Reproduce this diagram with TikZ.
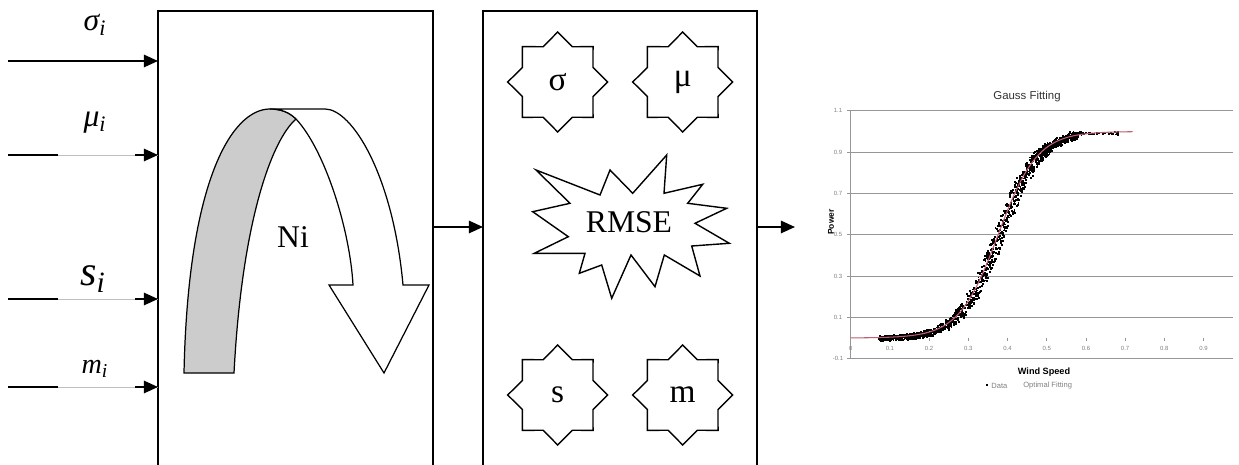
\documentclass[tikz,border=0pt]{standalone}
\usepackage{fontspec}
\setmainfont{Liberation Serif}
\newfontfamily\chartfont{Liberation Sans}
\usetikzlibrary{arrows.meta,shapes.geometric}
\definecolor{fitcol}{RGB}{190,95,115}
\definecolor{gridcol}{RGB}{150,150,150}
\definecolor{bandgray}{RGB}{204,204,204}
\begin{document}
\begin{tikzpicture}[x=0.02cm,y=-0.02cm,
  box/.style={draw, line width=1.1pt, anchor=north west, inner sep=0pt, outer sep=0pt},
  inarr/.style={line width=1.1pt, -{Triangle[length=8pt,width=7pt]}},
  thinseg/.style={black!25, line width=0.4pt},
  starbox/.style={draw, shape=star, star points=8, star point ratio=1.31, minimum size=2cm, inner sep=0pt, line width=0.8pt, font=\fontsize{19}{21}\selectfont},
  lbl/.style={font=\fontsize{18}{20}\selectfont\itshape},
  gridln/.style={gridcol, line width=0.6pt},
  ticklbl/.style={font=\chartfont\fontsize{3.4}{4}\selectfont, text=gray, inner sep=0pt},
  shapeln/.style={line width=0.7pt}
]
\clip (0,0) rectangle (1239,465);
\fill[white] (0,0) rectangle (1239,465);

% boxes
\node[box, minimum width=5.5cm, minimum height=9.38cm] (b1) at (158,11) {};
\node[box, minimum width=5.48cm, minimum height=9.38cm] (b2) at (483,11) {};

% input labels
\node[lbl] (lsig) at (95,25) {σ\textsubscript{i}};
\node[lbl] (lmu) at (95,123) {μ\textsubscript{i}};
\node[font=\fontsize{24}{26}\selectfont\itshape] (ls) at (93,279) {s\textsubscript{i}};
\node[font=\fontsize{16}{18}\selectfont\itshape] (lm) at (95,369) {m\textsubscript{i}};

% input arrows
\coordinate (i1) at (8,61);
\coordinate (i2) at (8,155);
\coordinate (i3) at (8,299);
\coordinate (i4) at (8,387);
\draw[inarr] (i1) -- (i1 -| b1.west);
\foreach \c in {i2,i3,i4}{
  \draw[thinseg] (\c) -- (\c -| b1.west);
  \draw[line width=1.1pt] (\c) -- ++(50,0);
  \draw[inarr] (\c -| b1.west) ++(-23,0) -- (\c -| b1.west);
}

% curved arrow
\filldraw[fill=bandgray, shapeln] (184,373) .. controls (188,180) and (232,109) .. (270,109)
  .. controls (282,109) and (290,113) .. (296,119)
  .. controls (272,140) and (242,220) .. (234,373) -- cycle;
\filldraw[fill=white, shapeln] (270,109) -- (325,109) .. controls (352,109) and (393,175) .. (403,285)
  -- (429,285) -- (384,373) -- (329,285) -- (353,285)
  .. controls (350,230) and (325,150) .. (296,119)
  .. controls (290,113) and (282,109) .. (270,109) -- cycle;
\node[font=\fontsize{18}{20}\selectfont] (ni) at (293,237) {Ni};

% connectors between boxes
\coordinate (lev) at (600,227);
\draw[inarr] (b1.east |- lev) -- (b2.west |- lev);
\coordinate (chartin) at (795,227);
\draw[inarr] (b2.east |- lev) -- (chartin);

% stars
\node[starbox] (ssig) at (557.7,82) {σ};
\node[starbox] (smu) at (682.7,82) {μ};
\node[starbox] (ss) at (557.7,395) {s};
\node[starbox] (sm) at (682.7,395) {m};

% RMSE explosion
\node[font=\fontsize{18}{20}\selectfont] (rmse) at (629,222) {RMSE};
\draw[line width=0.8pt, line join=miter] (536,170) -- (600,195) -- (610,170) -- (632.7,193.3) -- (666.7,155)
  -- (664,193.3) -- (702.7,184.3) -- (687.7,203.3) -- (726.7,208.3) -- (695,223.3)
  -- (729.3,243.3) -- (691.7,246) -- (700,276) -- (664.3,255) -- (655,286.7)
  -- (631,255) -- (611.7,298.3) -- (601.7,265) -- (579.3,273.3) -- (585,253.3)
  -- (534.3,253.3) -- (568.3,236.7) -- (532.7,211.7) -- (570,203.3) -- cycle;

% ---------------- chart ----------------
\foreach \v/\t in {0.1/0.1,0.3/0.3,0.5/0.5,0.7/0.7,0.9/0.9,1.1/1.1,-0.1/-0.1}{
  \pgfmathsetmacro\gy{338-206.5*\v}
  \draw[gridln] (850.7,\gy) -- (1233,\gy);
  \draw[gridln] (847,\gy) -- (850.7,\gy);
  \node[ticklbl] at (838,\gy) {\t};
}
\draw[gridln] (850.7,110.7) -- (850.7,358.7);
\foreach \k in {0,...,9}{
  \pgfmathsetmacro\gx{850.7+39.2*\k}
  \draw[gridln, line width=0.4pt] (\gx,338) -- (\gx,341);
}
\foreach \k/\t in {0/0,1/0.1,2/0.2,3/0.3,4/0.4,5/0.5,6/0.6,7/0.7,8/0.8,9/0.9}{
  \pgfmathsetmacro\gx{850.7+39.2*\k}
  \node[ticklbl] at (\gx,348) {\t};
}
% data points
\pgfmathsetseed{12}
\foreach \k in {1,...,1400}{
  \pgfmathsetmacro\myxv{0.07+0.51*rnd}
  \pgfmathsetmacro\myxe{\myxv+0.016*rand}
  \pgfmathsetmacro\myyv{1/(1+exp(-20*(\myxe-0.376)))+0.012*rand}
  \pgfmathsetmacro\mypx{850.7+392*\myxv}
  \pgfmathsetmacro\mypy{338-206.5*\myyv}
  \fill (\mypx,\mypy) rectangle ++(1.9,1.9);
}
\foreach \k in {1,...,60}{
  \pgfmathsetmacro\myxv{0.55+0.13*rnd}
  \pgfmathsetmacro\myyv{0.995+0.007*rand}
  \pgfmathsetmacro\mypx{850.7+392*\myxv}
  \pgfmathsetmacro\mypy{338-206.5*\myyv}
  \fill (\mypx,\mypy) rectangle ++(1.9,1.9);
}
\draw[fitcol, line width=0.6pt, domain=0:0.72, samples=120]
  plot ({850.7+392*\x},{338-206.5/(1+exp(-20*(\x-0.376)))});

\node[font=\chartfont\fontsize{6.5}{7}\selectfont, text=black!80] (ctitle) at (1027,97) {Gauss Fitting};
\node[font=\chartfont\bfseries\fontsize{5.2}{6}\selectfont] (xlab) at (1044,372) {Wind Speed};
\node[font=\chartfont\bfseries\fontsize{4.8}{6}\selectfont, rotate=90] (ylab) at (831,222) {Power};
\fill (986,384) rectangle ++(2.2,2.2);
\node[font=\chartfont\fontsize{4.3}{5}\selectfont, text=gray, anchor=west, inner sep=0pt] (leg1) at (991,385.5) {Data};
\node[font=\chartfont\fontsize{4.3}{5}\selectfont, text=gray, anchor=west, inner sep=0pt] (leg2) at (1023,385.5) {Optimal Fitting};
\end{tikzpicture}
\end{document}
